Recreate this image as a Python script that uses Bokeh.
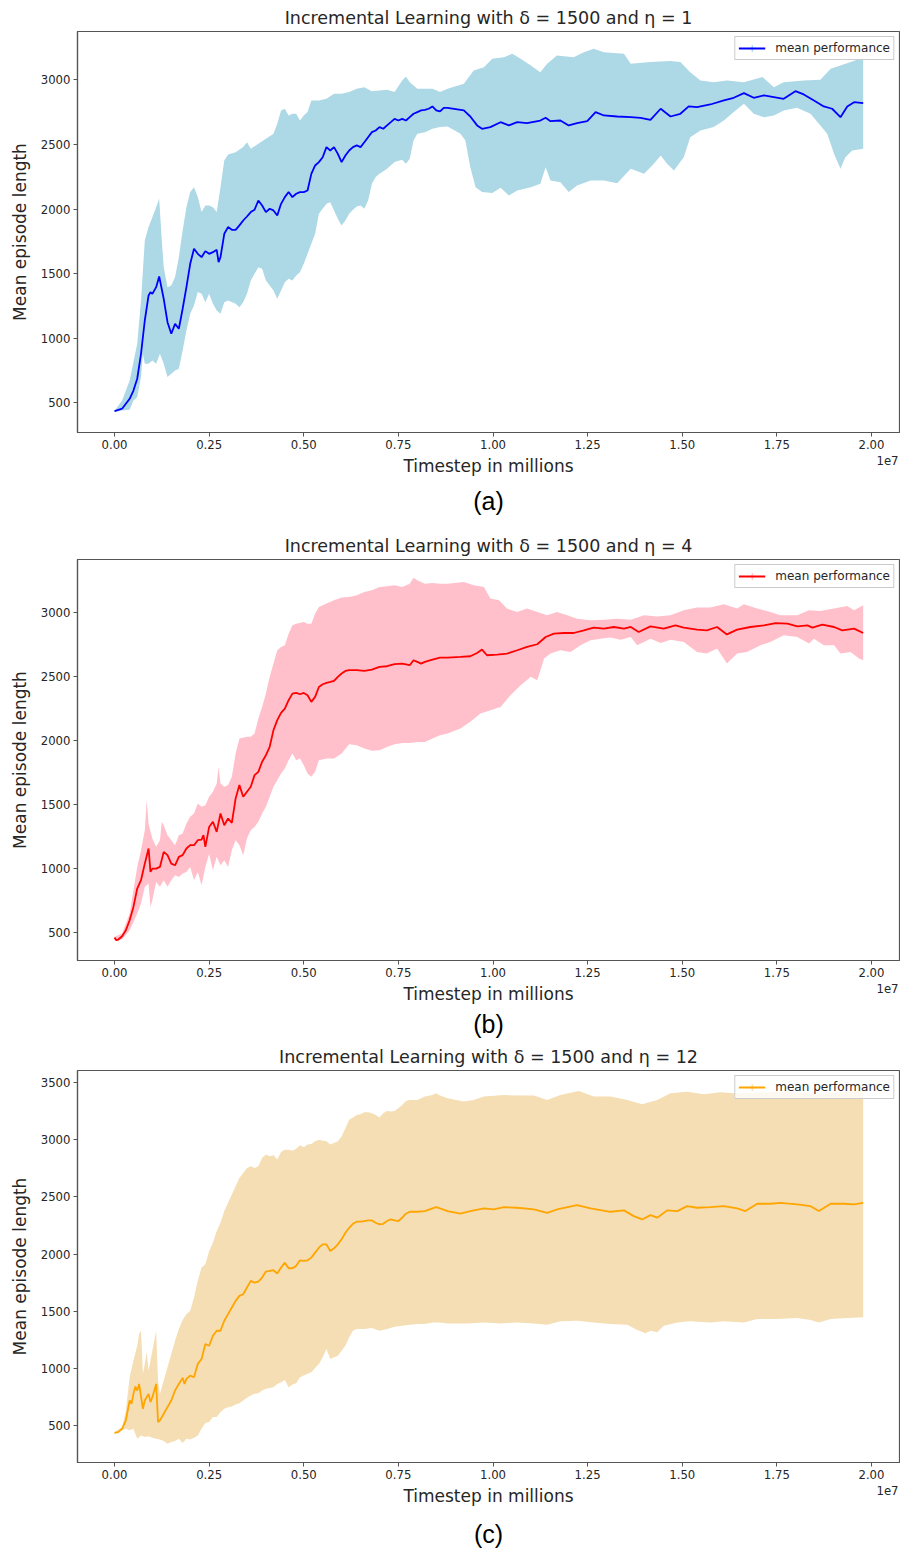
from bokeh.plotting import figure
from bokeh.models import (Range1d, FixedTicker, NumeralTickFormatter, Legend,
                          LegendItem, Title, LinearAxis)
from bokeh.layouts import column
from bokeh.embed import file_html
from bokeh.resources import INLINE

# ---------------- data (x in units of 1e7 timesteps, y = mean episode length) -------------
x_ticks = [0.0, 0.25, 0.5, 0.75, 1.0, 1.25, 1.5, 1.75, 2.0]

# (a) eta = 1
a_mean = [(0.00, 436), (0.02, 454), (0.04, 531), (0.05, 595), (0.06, 686), (0.07, 879), (0.08, 1137),
          (0.09, 1331), (0.095, 1356), (0.10, 1343), (0.11, 1395), (0.118, 1478), (0.13, 1305),
          (0.14, 1124), (0.15, 1034), (0.16, 1111), (0.17, 1073), (0.18, 1228), (0.19, 1395), (0.20, 1576),
          (0.21, 1692), (0.22, 1653), (0.23, 1627), (0.24, 1674), (0.25, 1653), (0.26, 1666), (0.27, 1684),
          (0.275, 1589), (0.28, 1627), (0.29, 1808), (0.30, 1860), (0.31, 1839), (0.32, 1839), (0.33, 1873),
          (0.34, 1911), (0.35, 1942), (0.36, 1976), (0.37, 1994), (0.38, 2066), (0.39, 2027), (0.40, 1976),
          (0.41, 2002), (0.42, 1989), (0.43, 1950), (0.44, 2040), (0.45, 2092), (0.46, 2131), (0.47, 2092),
          (0.48, 2118), (0.49, 2131), (0.50, 2131), (0.51, 2143), (0.52, 2272), (0.53, 2337), (0.54, 2363),
          (0.55, 2401), (0.56, 2479), (0.57, 2453), (0.58, 2479), (0.59, 2427), (0.60, 2363), (0.61, 2414),
          (0.62, 2453), (0.63, 2479), (0.64, 2492), (0.65, 2479), (0.66, 2517), (0.67, 2556), (0.68, 2595),
          (0.69, 2608), (0.70, 2634), (0.71, 2621), (0.72, 2647), (0.73, 2672), (0.74, 2698), (0.75, 2685),
          (0.76, 2698), (0.77, 2685), (0.78, 2711), (0.79, 2737), (0.80, 2750), (0.81, 2763), (0.82, 2768),
          (0.83, 2776), (0.84, 2794), (0.85, 2763), (0.86, 2755), (0.87, 2783), (0.88, 2783),
          (0.923, 2763), (0.94, 2716), (0.958, 2647), (0.971, 2621), (0.993, 2634), (1.02, 2672),
          (1.042, 2647), (1.064, 2672), (1.09, 2665), (1.125, 2685), (1.139, 2706), (1.152, 2680),
          (1.178, 2685), (1.20, 2647), (1.222, 2665), (1.249, 2680), (1.271, 2750), (1.293, 2724),
          (1.328, 2716), (1.364, 2711), (1.39, 2706), (1.416, 2690), (1.443, 2776), (1.469, 2716),
          (1.495, 2737), (1.517, 2794), (1.539, 2789), (1.574, 2809), (1.61, 2840), (1.636, 2861),
          (1.663, 2897), (1.689, 2861), (1.716, 2879), (1.742, 2866), (1.768, 2853), (1.799, 2912),
          (1.821, 2887), (1.848, 2840), (1.874, 2794), (1.896, 2776), (1.918, 2711), (1.936, 2794),
          (1.954, 2827), (1.978, 2819)]
a_upper = [(0.00, 436), (0.02, 518), (0.04, 673), (0.06, 957), (0.07, 1292), (0.08, 1756), (0.09, 1860),
           (0.10, 1937), (0.11, 2014), (0.118, 2079), (0.125, 1756), (0.13, 1550), (0.14, 1395),
           (0.15, 1408), (0.16, 1473), (0.17, 1627), (0.18, 1834), (0.19, 2014), (0.20, 2131), (0.21, 2169),
           (0.22, 2092), (0.23, 1976), (0.24, 2027), (0.25, 2027), (0.26, 2014), (0.27, 1976), (0.28, 2169),
           (0.29, 2376), (0.30, 2422), (0.32, 2440), (0.34, 2479), (0.35, 2517), (0.36, 2466), (0.38, 2505),
           (0.40, 2543), (0.42, 2582), (0.43, 2660), (0.44, 2763), (0.45, 2776), (0.46, 2724), (0.47, 2737),
           (0.48, 2737), (0.49, 2685), (0.50, 2724), (0.51, 2750), (0.52, 2840), (0.54, 2840), (0.56, 2853),
           (0.58, 2892), (0.60, 2892), (0.62, 2905), (0.64, 2930), (0.66, 2943), (0.68, 2912), (0.70, 2918),
           (0.72, 2923), (0.74, 2905), (0.76, 2995), (0.77, 3026), (0.78, 2982), (0.80, 2930), (0.82, 2930),
           (0.84, 2930), (0.86, 2905), (0.88, 2930), (0.923, 2969), (0.949, 3072), (0.976, 3098),
           (0.998, 3163), (1.029, 3175), (1.051, 3201), (1.073, 3163), (1.10, 3111), (1.125, 3059),
           (1.143, 3124), (1.169, 3188), (1.213, 3175), (1.24, 3214), (1.266, 3240), (1.293, 3214),
           (1.346, 3201), (1.364, 3124), (1.416, 3137), (1.469, 3145), (1.495, 3137), (1.521, 3059),
           (1.548, 2995), (1.583, 2982), (1.618, 2995), (1.663, 2982), (1.712, 3021), (1.742, 2943),
           (1.768, 2982), (1.821, 2995), (1.865, 3000), (1.892, 3085), (1.918, 3111), (1.945, 3137),
           (1.978, 3170)]
a_lower = [(0.00, 428), (0.02, 441), (0.04, 446), (0.05, 518), (0.06, 544), (0.07, 699), (0.075, 879),
           (0.08, 802), (0.09, 802), (0.10, 828), (0.11, 802), (0.12, 879), (0.13, 802), (0.14, 699),
           (0.15, 724), (0.16, 750), (0.17, 763), (0.18, 905), (0.19, 1060), (0.20, 1189), (0.21, 1253),
           (0.22, 1357), (0.23, 1344), (0.24, 1279), (0.25, 1344), (0.26, 1266), (0.27, 1215), (0.28, 1189),
           (0.29, 1279), (0.30, 1292), (0.32, 1266), (0.33, 1240), (0.34, 1279), (0.35, 1344), (0.36, 1447),
           (0.37, 1498), (0.38, 1550), (0.39, 1537), (0.40, 1447), (0.41, 1408), (0.42, 1369), (0.43, 1305),
           (0.44, 1369), (0.45, 1434), (0.46, 1460), (0.47, 1447), (0.48, 1486), (0.49, 1511), (0.50, 1576),
           (0.51, 1653), (0.52, 1731), (0.53, 1808), (0.54, 1963), (0.55, 2002), (0.56, 2040), (0.57, 2053),
           (0.58, 1989), (0.59, 1924), (0.60, 1873), (0.61, 1911), (0.62, 1963), (0.63, 1994), (0.64, 2020),
           (0.65, 2027), (0.66, 2002), (0.67, 2066), (0.68, 2195), (0.69, 2247), (0.70, 2272), (0.72, 2311),
           (0.74, 2363), (0.76, 2381), (0.77, 2350), (0.78, 2389), (0.79, 2531), (0.80, 2582), (0.82, 2595),
           (0.84, 2621), (0.86, 2634), (0.88, 2639), (0.914, 2582), (0.927, 2531), (0.94, 2324),
           (0.954, 2169), (0.971, 2131), (0.998, 2123), (1.02, 2164), (1.042, 2105), (1.064, 2143),
           (1.10, 2169), (1.125, 2195), (1.139, 2324), (1.152, 2221), (1.178, 2208), (1.20, 2131),
           (1.222, 2182), (1.258, 2221), (1.293, 2221), (1.328, 2200), (1.364, 2311), (1.399, 2272),
           (1.425, 2350), (1.443, 2414), (1.46, 2350), (1.478, 2298), (1.504, 2401), (1.521, 2556),
           (1.548, 2608), (1.583, 2634), (1.61, 2685), (1.636, 2750), (1.663, 2814), (1.689, 2737),
           (1.716, 2711), (1.742, 2724), (1.768, 2763), (1.803, 2783), (1.839, 2737), (1.865, 2647),
           (1.883, 2582), (1.901, 2427), (1.918, 2311), (1.931, 2401), (1.949, 2453), (1.978, 2466)]

# (b) eta = 4
b_mean = [(0.00, 460), (0.005, 440), (0.01, 445), (0.02, 471), (0.03, 518), (0.04, 596), (0.05, 700),
          (0.06, 844), (0.07, 909), (0.08, 1039), (0.09, 1157), (0.095, 974), (0.10, 1000), (0.11, 1000),
          (0.12, 1013), (0.13, 1131), (0.14, 1105), (0.15, 1039), (0.16, 1026), (0.17, 1092), (0.18, 1105),
          (0.19, 1157), (0.20, 1183), (0.21, 1183), (0.22, 1222), (0.23, 1227), (0.235, 1261), (0.24, 1170),
          (0.25, 1326), (0.26, 1366), (0.27, 1287), (0.28, 1431), (0.29, 1339), (0.30, 1392), (0.31, 1358),
          (0.32, 1549), (0.33, 1653), (0.34, 1562), (0.35, 1601), (0.36, 1640), (0.37, 1731), (0.38, 1757),
          (0.39, 1836), (0.40, 1887), (0.41, 1953), (0.42, 2083), (0.43, 2161), (0.44, 2218), (0.45, 2252),
          (0.46, 2317), (0.47, 2369), (0.48, 2374), (0.49, 2364), (0.50, 2374), (0.51, 2356), (0.52, 2304),
          (0.53, 2343), (0.54, 2421), (0.55, 2442), (0.56, 2453), (0.57, 2460), (0.58, 2468), (0.59, 2500),
          (0.60, 2526), (0.61, 2546), (0.62, 2552), (0.64, 2552), (0.66, 2546), (0.68, 2557), (0.70, 2578),
          (0.72, 2583), (0.74, 2599), (0.76, 2604), (0.78, 2591), (0.79, 2630), (0.80, 2617), (0.81, 2604),
          (0.82, 2617), (0.84, 2635), (0.86, 2651), (0.88, 2651), (0.914, 2656), (0.94, 2661),
          (0.958, 2687), (0.971, 2713), (0.984, 2669), (1.011, 2674), (1.037, 2682), (1.064, 2708),
          (1.09, 2734), (1.117, 2755), (1.139, 2812), (1.161, 2838), (1.187, 2843), (1.213, 2843),
          (1.24, 2864), (1.266, 2885), (1.293, 2877), (1.319, 2890), (1.346, 2877), (1.364, 2890),
          (1.385, 2851), (1.416, 2895), (1.451, 2877), (1.482, 2903), (1.504, 2885), (1.539, 2869),
          (1.565, 2864), (1.592, 2890), (1.618, 2832), (1.645, 2869), (1.68, 2890), (1.716, 2903),
          (1.747, 2921), (1.778, 2916), (1.804, 2895), (1.831, 2903), (1.844, 2885), (1.87, 2908),
          (1.901, 2890), (1.923, 2864), (1.954, 2877), (1.978, 2843)]
b_upper = [(0.00, 466), (0.02, 492), (0.04, 648), (0.05, 831), (0.06, 1013), (0.07, 1144), (0.08, 1300),
           (0.085, 1535), (0.09, 1353), (0.10, 1235), (0.11, 1170), (0.12, 1222), (0.125, 1366),
           (0.13, 1339), (0.14, 1261), (0.15, 1222), (0.16, 1183), (0.17, 1261), (0.18, 1274), (0.19, 1353),
           (0.20, 1405), (0.21, 1431), (0.22, 1509), (0.23, 1483), (0.24, 1496), (0.25, 1562), (0.26, 1601),
           (0.27, 1666), (0.275, 1797), (0.28, 1666), (0.29, 1640), (0.30, 1653), (0.31, 1718), (0.32, 1900),
           (0.33, 2018), (0.35, 2031), (0.36, 2031), (0.37, 2057), (0.38, 2174), (0.39, 2265), (0.40, 2369),
           (0.41, 2500), (0.42, 2604), (0.43, 2708), (0.44, 2734), (0.45, 2747), (0.46, 2838), (0.47, 2903),
           (0.48, 2916), (0.50, 2929), (0.51, 2916), (0.52, 2916), (0.53, 2994), (0.54, 3047), (0.56, 3073),
           (0.58, 3099), (0.60, 3120), (0.62, 3125), (0.64, 3138), (0.66, 3164), (0.68, 3177), (0.70, 3203),
           (0.72, 3209), (0.74, 3216), (0.76, 3203), (0.78, 3229), (0.79, 3276), (0.80, 3255), (0.82, 3229),
           (0.84, 3234), (0.86, 3229), (0.88, 3229), (0.923, 3242), (0.949, 3216), (0.976, 3203),
           (0.993, 3112), (1.016, 3099), (1.037, 3034), (1.064, 3008), (1.09, 3034), (1.117, 3008),
           (1.143, 2981), (1.169, 3008), (1.196, 2981), (1.222, 2955), (1.258, 2942), (1.293, 2947),
           (1.328, 2955), (1.364, 2947), (1.399, 2981), (1.434, 2973), (1.469, 2981), (1.504, 3021),
           (1.539, 3042), (1.574, 3042), (1.61, 3068), (1.645, 3034), (1.663, 3068), (1.698, 3034),
           (1.733, 3008), (1.759, 2981), (1.804, 2981), (1.835, 3021), (1.865, 3016), (1.901, 3034),
           (1.936, 3055), (1.954, 3021), (1.978, 3060)]
b_lower = [(0.00, 435), (0.02, 445), (0.04, 518), (0.05, 583), (0.06, 648), (0.07, 727), (0.08, 857),
           (0.09, 883), (0.095, 700), (0.10, 753), (0.11, 896), (0.12, 857), (0.13, 909), (0.14, 857),
           (0.15, 909), (0.16, 948), (0.17, 935), (0.18, 961), (0.19, 974), (0.20, 1013), (0.21, 909),
           (0.22, 974), (0.23, 870), (0.24, 1013), (0.25, 1117), (0.26, 987), (0.27, 1092), (0.28, 1026),
           (0.29, 1065), (0.30, 1013), (0.31, 1144), (0.32, 1222), (0.33, 1183), (0.34, 1105), (0.35, 1235),
           (0.36, 1300), (0.37, 1326), (0.38, 1366), (0.39, 1431), (0.40, 1483), (0.41, 1562), (0.42, 1640),
           (0.43, 1692), (0.44, 1744), (0.45, 1783), (0.46, 1848), (0.47, 1900), (0.48, 1848), (0.49, 1861),
           (0.50, 1809), (0.51, 1744), (0.52, 1718), (0.53, 1757), (0.54, 1848), (0.56, 1861), (0.58, 1861),
           (0.60, 1900), (0.62, 1973), (0.64, 1965), (0.66, 1939), (0.68, 1921), (0.70, 1926), (0.72, 1952),
           (0.74, 1973), (0.76, 1983), (0.78, 1983), (0.80, 1991), (0.82, 1991), (0.84, 2017), (0.86, 2044),
           (0.88, 2057), (0.914, 2096), (0.94, 2148), (0.967, 2213), (0.993, 2239), (1.02, 2265),
           (1.046, 2356), (1.073, 2434), (1.10, 2500), (1.117, 2474), (1.135, 2643), (1.152, 2682),
           (1.178, 2708), (1.205, 2695), (1.231, 2747), (1.258, 2786), (1.284, 2799), (1.31, 2807),
           (1.337, 2791), (1.364, 2812), (1.381, 2747), (1.399, 2773), (1.416, 2799), (1.443, 2765),
           (1.469, 2791), (1.504, 2773), (1.539, 2695), (1.565, 2682), (1.592, 2721), (1.618, 2604),
           (1.645, 2682), (1.671, 2695), (1.707, 2747), (1.733, 2773), (1.768, 2825), (1.804, 2812),
           (1.835, 2760), (1.848, 2799), (1.874, 2747), (1.901, 2747), (1.918, 2682), (1.945, 2695),
           (1.967, 2643), (1.978, 2630)]

# (c) eta = 12
c_mean = [(0.00, 436), (0.01, 444), (0.02, 473), (0.03, 546), (0.04, 720), (0.045, 691), (0.05, 778),
          (0.055, 842), (0.06, 807), (0.065, 865), (0.075, 647), (0.08, 720), (0.09, 778), (0.095, 706),
          (0.10, 749), (0.11, 865), (0.115, 531), (0.12, 546), (0.13, 604), (0.14, 662), (0.15, 720),
          (0.16, 807), (0.17, 865), (0.18, 918), (0.185, 865), (0.19, 909), (0.20, 938), (0.21, 923),
          (0.22, 1040), (0.23, 1083), (0.24, 1214), (0.25, 1199), (0.26, 1286), (0.27, 1330), (0.28, 1330),
          (0.29, 1417), (0.30, 1475), (0.31, 1533), (0.32, 1591), (0.33, 1635), (0.34, 1649), (0.35, 1708),
          (0.36, 1766), (0.37, 1751), (0.38, 1760), (0.39, 1795), (0.40, 1847), (0.41, 1853), (0.42, 1859),
          (0.43, 1830), (0.44, 1882), (0.45, 1925), (0.46, 1876), (0.47, 1876), (0.48, 1897), (0.49, 1946),
          (0.50, 1940), (0.51, 1946), (0.52, 1969), (0.53, 2013), (0.54, 2056), (0.55, 2085), (0.56, 2085),
          (0.57, 2027), (0.58, 2051), (0.59, 2085), (0.60, 2129), (0.61, 2187), (0.62, 2230), (0.63, 2265),
          (0.64, 2283), (0.65, 2283), (0.66, 2289), (0.67, 2294), (0.68, 2294), (0.69, 2274), (0.70, 2260),
          (0.71, 2265), (0.72, 2289), (0.73, 2303), (0.74, 2294), (0.75, 2289), (0.76, 2318), (0.77, 2353),
          (0.78, 2370), (0.80, 2370), (0.82, 2376), (0.84, 2399), (0.85, 2411), (0.86, 2399), (0.88, 2376),
          (0.914, 2353), (0.94, 2376), (0.976, 2399), (1.002, 2390), (1.029, 2411), (1.064, 2405),
          (1.108, 2390), (1.143, 2361), (1.169, 2390), (1.222, 2428), (1.258, 2399), (1.31, 2370),
          (1.346, 2382), (1.372, 2332), (1.394, 2303), (1.416, 2341), (1.434, 2318), (1.46, 2382),
          (1.487, 2376), (1.513, 2419), (1.539, 2405), (1.574, 2411), (1.61, 2419), (1.645, 2399),
          (1.667, 2376), (1.698, 2440), (1.733, 2440), (1.759, 2448), (1.804, 2434), (1.839, 2419),
          (1.861, 2376), (1.892, 2440), (1.927, 2440), (1.954, 2434), (1.978, 2448)]
c_upper = [(0.00, 444), (0.02, 488), (0.03, 633), (0.04, 924), (0.05, 1069), (0.06, 1199), (0.065, 1301),
           (0.07, 1330), (0.075, 953), (0.08, 1040), (0.085, 1141), (0.09, 982), (0.10, 1156), (0.11, 1330),
           (0.115, 895), (0.12, 778), (0.13, 895), (0.14, 1011), (0.15, 1127), (0.16, 1243), (0.17, 1345),
           (0.18, 1423), (0.19, 1475), (0.20, 1504), (0.21, 1620), (0.22, 1766), (0.23, 1882), (0.24, 1911),
           (0.25, 2027), (0.26, 2100), (0.27, 2201), (0.28, 2274), (0.29, 2376), (0.30, 2448), (0.31, 2521),
           (0.32, 2593), (0.33, 2666), (0.34, 2710), (0.35, 2753), (0.36, 2768), (0.37, 2753), (0.38, 2768),
           (0.39, 2840), (0.40, 2870), (0.41, 2855), (0.42, 2864), (0.43, 2826), (0.44, 2893), (0.45, 2913),
           (0.46, 2913), (0.47, 2904), (0.48, 2922), (0.49, 2951), (0.50, 2933), (0.51, 2957), (0.52, 2962),
           (0.53, 2986), (0.54, 3000), (0.55, 2991), (0.56, 2986), (0.57, 2957), (0.58, 2971), (0.59, 2986),
           (0.60, 3029), (0.61, 3101), (0.62, 3174), (0.63, 3194), (0.64, 3217), (0.65, 3223), (0.66, 3240),
           (0.67, 3240), (0.68, 3232), (0.69, 3217), (0.70, 3194), (0.71, 3232), (0.72, 3252), (0.73, 3246),
           (0.74, 3252), (0.75, 3275), (0.76, 3304), (0.77, 3339), (0.78, 3348), (0.80, 3348), (0.82, 3377),
           (0.84, 3391), (0.85, 3406), (0.86, 3386), (0.88, 3363), (0.923, 3334), (0.949, 3348),
           (0.976, 3377), (1.029, 3391), (1.064, 3386), (1.108, 3386), (1.143, 3348), (1.178, 3391),
           (1.227, 3426), (1.266, 3377), (1.31, 3377), (1.355, 3348), (1.394, 3310), (1.434, 3348),
           (1.469, 3406), (1.513, 3420), (1.557, 3397), (1.601, 3415), (1.636, 3406), (1.68, 3410),
           (1.768, 3420), (1.857, 3400), (1.978, 3430)]
c_lower = [(0.00, 430), (0.02, 459), (0.03, 473), (0.04, 459), (0.05, 473), (0.06, 386), (0.07, 415),
           (0.08, 401), (0.09, 407), (0.10, 395), (0.11, 386), (0.12, 378), (0.13, 366), (0.14, 343),
           (0.15, 357), (0.16, 366), (0.17, 386), (0.18, 349), (0.19, 386), (0.20, 378), (0.21, 395),
           (0.22, 415), (0.23, 473), (0.24, 523), (0.25, 531), (0.26, 575), (0.27, 575), (0.28, 619),
           (0.29, 647), (0.30, 662), (0.31, 668), (0.32, 685), (0.33, 697), (0.34, 720), (0.35, 743),
           (0.36, 764), (0.37, 778), (0.38, 784), (0.39, 807), (0.40, 822), (0.41, 830), (0.42, 836),
           (0.43, 865), (0.44, 880), (0.45, 900), (0.46, 836), (0.47, 859), (0.48, 871), (0.49, 924),
           (0.50, 938), (0.51, 953), (0.52, 967), (0.53, 1005), (0.54, 1040), (0.55, 1098), (0.56, 1171),
           (0.57, 1083), (0.58, 1098), (0.59, 1112), (0.60, 1156), (0.61, 1199), (0.62, 1272), (0.63, 1330),
           (0.64, 1345), (0.66, 1345), (0.68, 1353), (0.70, 1330), (0.72, 1345), (0.74, 1365), (0.76, 1374),
           (0.78, 1383), (0.80, 1389), (0.82, 1389), (0.84, 1403), (0.86, 1403), (0.88, 1394),
           (0.932, 1394), (0.976, 1403), (1.02, 1394), (1.064, 1403), (1.108, 1394), (1.143, 1383),
           (1.178, 1412), (1.222, 1418), (1.266, 1403), (1.31, 1389), (1.355, 1383), (1.381, 1336),
           (1.403, 1307), (1.416, 1330), (1.434, 1316), (1.451, 1374), (1.487, 1403), (1.521, 1412),
           (1.574, 1403), (1.61, 1412), (1.663, 1403), (1.698, 1432), (1.751, 1432), (1.804, 1441),
           (1.839, 1423), (1.861, 1403), (1.892, 1432), (1.936, 1441), (1.978, 1447)]

titles = ["Incremental Learning with \u03b4 = 1500 and \u03b7 = 1",
          "Incremental Learning with \u03b4 = 1500 and \u03b7 = 4",
          "Incremental Learning with \u03b4 = 1500 and \u03b7 = 12"]
captions = ["(a)", "(b)", "(c)"]
y_ticks_ab = [500, 1000, 1500, 2000, 2500, 3000]
y_ticks_c = [500, 1000, 1500, 2000, 2500, 3000, 3500]
offset_text = "1e7"
offset_pos = 2.0423   # where the scale note sits, at the right end of the x axis

FONT = "DejaVu Sans"
TXT = "#262626"
SPINE = "#555555"
X_RANGE = (-0.0978, 2.074)


def make_panel(title, mean, upper, lower, line_color, band_color, y_range, y_ticks,
               height, top, bottom, caption, cap_standoff):
    p = figure(width=900, height=height, output_backend="svg", toolbar_location=None,
               x_range=Range1d(*X_RANGE), y_range=Range1d(*y_range),
               min_border_left=77, min_border_right=1, min_border_top=top,
               min_border_bottom=bottom, title=title)
    p.title.text_font = FONT
    p.title.text_font_size = "17.5px"
    p.title.text_font_style = "normal"
    p.title.text_color = TXT
    p.title.align = "center"
    p.title.standoff = 8

    ux, uy = zip(*upper)
    lx, ly = zip(*lower)
    p.patch(list(ux) + list(lx)[::-1], list(uy) + list(ly)[::-1],
            fill_color=band_color, line_color=None)
    tick_r = p.scatter(x=[-5.0], y=[-5000.0], marker="cross", size=12,
                       line_color=band_color, line_width=1.5)
    mx, my = zip(*mean)
    line_r = p.line(list(mx), list(my), line_color=line_color, line_width=1.8)

    p.grid.grid_line_color = None
    p.outline_line_color = SPINE
    p.outline_line_width = 1.2
    p.background_fill_color = "white"
    p.border_fill_color = "white"

    xa = p.xaxis[0]
    ya = p.yaxis[0]
    xa.ticker = FixedTicker(ticks=x_ticks)
    xa.formatter = NumeralTickFormatter(format="0.00")
    ya.ticker = FixedTicker(ticks=y_ticks)
    for ax in (xa, ya):
        ax.axis_line_color = SPINE
        ax.axis_line_width = 1.2
        ax.major_tick_line_color = SPINE
        ax.major_tick_out = 4
        ax.major_tick_in = 0
        ax.minor_tick_line_color = None
        ax.major_label_text_font = FONT
        ax.major_label_text_font_size = "11.7px"
        ax.major_label_text_color = TXT
        ax.major_label_standoff = 3
        ax.axis_label_text_font = FONT
        ax.axis_label_text_font_size = "17px"
        ax.axis_label_text_font_style = "normal"
        ax.axis_label_text_color = TXT
    ya.axis_label_standoff = 8
    ya.axis_label = "Mean episode length"

    # second (label-only) axis below: carries the "1e7" scale note and the x axis title
    xa2 = LinearAxis(ticker=FixedTicker(ticks=[offset_pos]),
                     major_label_overrides={offset_pos: offset_text},
                     axis_line_color=None, major_tick_line_color=None,
                     major_tick_out=0, major_tick_in=0, minor_tick_line_color=None,
                     major_label_standoff=4, major_label_text_font=FONT,
                     major_label_text_font_size="11.7px", major_label_text_color=TXT,
                     axis_label="Timestep in millions", axis_label_standoff=-12,
                     axis_label_text_font=FONT, axis_label_text_font_size="17px",
                     axis_label_text_font_style="normal", axis_label_text_color=TXT)
    p.add_layout(xa2, "below")

    legend = Legend(items=[LegendItem(label="mean performance", renderers=[tick_r, line_r])],
                    location="top_right", margin=5, padding=3, spacing=0, label_standoff=10,
                    glyph_width=27, glyph_height=16, label_height=16,
                    label_text_font=FONT, label_text_font_size="12px", label_text_color=TXT,
                    border_line_color="#cccccc", border_line_alpha=1.0,
                    background_fill_alpha=0.8)
    p.add_layout(legend)

    p.add_layout(Title(text=caption, align="center", text_font="Liberation Sans",
                       text_font_size="25px", text_font_style="normal", text_color="black",
                       standoff=cap_standoff), "below")
    return p


pa = make_panel(titles[0], a_mean, a_upper, a_lower, "blue", "lightblue", (270, 3374),
                y_ticks_ab, 522, 31, 90, captions[0], 12)
pb = make_panel(titles[1], b_mean, b_upper, b_lower, "red", "pink", (281, 3418),
                y_ticks_ab, 518, 37, 80, captions[1], 3)
pc = make_panel(titles[2], c_mean, c_upper, c_lower, "orange", "wheat", (178, 3605),
                y_ticks_c, 524, 29, 102, captions[2], 19)

layout = column(pa, pb, pc, spacing=0)
open("out.html", "w").write(file_html(layout, INLINE))
